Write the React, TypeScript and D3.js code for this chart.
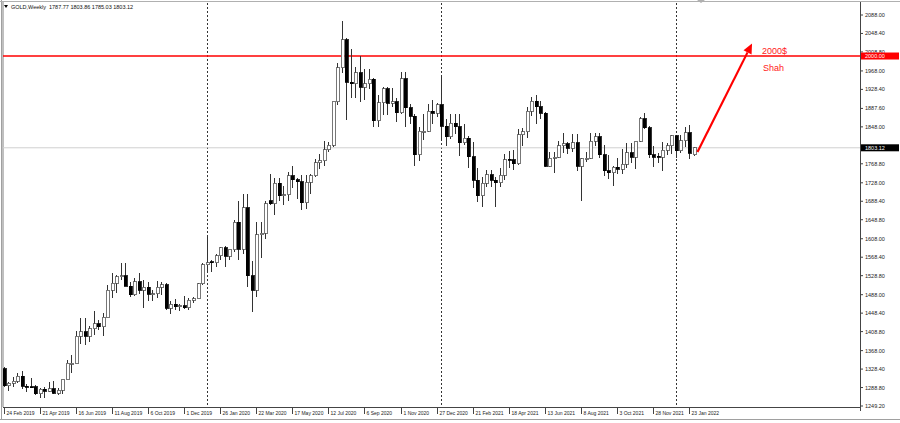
import React from "react";
import * as d3 from "d3";

// weekly bars, 24 Feb 2019 .. 30 Jan 2022
const opens = [
  1329, 1293, 1298, 1302, 1313, 1292, 1291, 1290, 1275, 1285, 1281, 1286, 1277, 1283, 1305, 1341, 1341, 1399, 1409, 1399,
  1415, 1426, 1419, 1440, 1497, 1513, 1527, 1529, 1506, 1488, 1516, 1497, 1504, 1489, 1490, 1504, 1509, 1459, 1468, 1462,
  1464, 1460, 1476, 1479, 1511, 1552, 1559, 1557, 1571, 1589, 1570, 1584, 1643, 1585, 1674, 1529, 1498, 1617, 1620, 1689,
  1683, 1727, 1700, 1702, 1743, 1735, 1730, 1685, 1729, 1743, 1771, 1775, 1799, 1809, 1902, 1975, 2035, 1944, 1940, 1964,
  1933, 1940, 1950, 1861, 1900, 1930, 1899, 1902, 1878, 1951, 1889, 1871, 1788, 1837, 1839, 1882, 1877, 1895, 1849, 1827,
  1856, 1848, 1814, 1824, 1784, 1734, 1700, 1727, 1745, 1733, 1728, 1744, 1779, 1777, 1769, 1831, 1838, 1881, 1903, 1891,
  1877, 1764, 1781, 1783, 1808, 1812, 1802, 1814, 1763, 1780, 1781, 1817, 1827, 1788, 1754, 1750, 1761, 1757, 1768, 1792,
  1783, 1817, 1865, 1846, 1788, 1785, 1783, 1798, 1808, 1829, 1797, 1818, 1835, 1787.77,
];
const highs = [
  1333, 1300, 1311, 1320, 1325, 1297, 1310, 1295, 1288, 1290, 1300, 1303, 1287, 1306, 1348, 1359, 1411, 1439, 1437, 1421,
  1452, 1433, 1449, 1509, 1535, 1530, 1555, 1557, 1516, 1523, 1535, 1519, 1516, 1499, 1518, 1516, 1514, 1475, 1478, 1467,
  1485, 1480, 1483, 1514, 1555, 1611, 1563, 1576, 1591, 1592, 1584, 1649, 1689, 1703, 1703, 1560, 1645, 1645, 1690, 1747,
  1739, 1739, 1722, 1752, 1765, 1738, 1745, 1745, 1746, 1779, 1789, 1818, 1815, 1902, 1984, 2075, 2039, 2015, 1976, 2000,
  1973, 1973, 1953, 1917, 1933, 1933, 1932, 1910, 1965, 1966, 1898, 1875, 1848, 1875, 1896, 1906, 1900, 1959, 1865, 1875,
  1875, 1875, 1855, 1828, 1816, 1760, 1740, 1755, 1756, 1740, 1759, 1790, 1797, 1798, 1843, 1845, 1890, 1913, 1916, 1903,
  1879, 1795, 1795, 1818, 1834, 1815, 1832, 1832, 1782, 1795, 1834, 1834, 1835, 1809, 1787, 1764, 1781, 1800, 1814, 1813,
  1818, 1870, 1877, 1849, 1808, 1793, 1815, 1813, 1831, 1831, 1830, 1848, 1853, 1803.86,
];
const lows = [
  1291, 1281, 1289, 1298, 1286, 1280, 1287, 1272, 1266, 1266, 1279, 1274, 1273, 1276, 1304, 1321, 1341, 1382, 1381, 1386,
  1401, 1412, 1400, 1440, 1480, 1491, 1519, 1506, 1484, 1485, 1489, 1459, 1474, 1475, 1480, 1488, 1456, 1446, 1456, 1452,
  1458, 1456, 1470, 1479, 1508, 1537, 1536, 1547, 1563, 1547, 1563, 1579, 1563, 1576, 1505, 1451, 1483, 1567, 1608, 1680,
  1659, 1690, 1680, 1690, 1717, 1693, 1670, 1671, 1705, 1741, 1757, 1763, 1795, 1805, 1895, 1964, 1863, 1911, 1910, 1902,
  1906, 1930, 1848, 1848, 1873, 1874, 1890, 1859, 1875, 1848, 1854, 1764, 1774, 1819, 1836, 1855, 1870, 1817, 1808, 1821,
  1832, 1785, 1809, 1760, 1717, 1687, 1676, 1718, 1719, 1677, 1720, 1733, 1760, 1756, 1767, 1808, 1825, 1871, 1855, 1864,
  1761, 1761, 1750, 1782, 1792, 1789, 1795, 1753, 1688, 1772, 1779, 1806, 1781, 1742, 1737, 1721, 1746, 1746, 1760, 1770,
  1758, 1815, 1844, 1782, 1762, 1770, 1753, 1787, 1790, 1782, 1791, 1805, 1780, 1785.03,
];
const closes = [
  1293, 1298, 1302, 1313, 1292, 1291, 1290, 1275, 1285, 1281, 1286, 1277, 1283, 1305, 1341, 1341, 1399, 1409, 1399, 1415,
  1426, 1419, 1440, 1497, 1513, 1527, 1529, 1506, 1488, 1516, 1497, 1504, 1489, 1490, 1504, 1509, 1459, 1468, 1462, 1464,
  1460, 1476, 1479, 1511, 1552, 1557, 1557, 1571, 1589, 1570, 1584, 1643, 1585, 1674, 1529, 1498, 1617, 1620, 1683, 1683,
  1727, 1700, 1702, 1743, 1735, 1730, 1685, 1729, 1743, 1771, 1775, 1799, 1809, 1902, 1975, 2035, 1944, 1940, 1964, 1933,
  1940, 1950, 1861, 1900, 1930, 1899, 1902, 1878, 1951, 1889, 1871, 1788, 1839, 1839, 1882, 1877, 1895, 1849, 1827, 1856,
  1848, 1814, 1824, 1784, 1734, 1700, 1727, 1745, 1733, 1728, 1744, 1777, 1777, 1769, 1831, 1838, 1881, 1903, 1891, 1877,
  1764, 1781, 1783, 1808, 1812, 1802, 1814, 1763, 1780, 1781, 1817, 1827, 1788, 1754, 1750, 1761, 1757, 1768, 1792, 1783,
  1817, 1865, 1846, 1788, 1783, 1783, 1798, 1808, 1829, 1797, 1818, 1835, 1791, 1803.12,
];

// x-axis labels, one every 8 bars
const dateLabels = [
  "24 Feb 2019", "21 Apr 2019", "16 Jun 2019", "11 Aug 2019", "6 Oct 2019", "1 Dec 2019", "26 Jan 2020",
  "22 Mar 2020", "17 May 2020", "12 Jul 2020", "6 Sep 2020", "1 Nov 2020", "27 Dec 2020", "21 Feb 2021",
  "18 Apr 2021", "13 Jun 2021", "8 Aug 2021", "3 Oct 2021", "28 Nov 2021", "23 Jan 2022",
];
const labelStep = 8;
// first bar of each year (period separators)
const yearStarts = [45, 97, 149];

const priceTicks = [
  2088.0, 2048.4, 2008.8, 1968.0, 1928.4, 1887.6, 1848.0, 1768.8, 1728.0, 1688.4, 1648.8, 1608.0,
  1568.4, 1528.8, 1488.0, 1448.4, 1408.8, 1368.0, 1328.4, 1288.8, 1249.2,
];

const targetLevel = 2000;
const lastPrice = 1803.12;
const arrowFrom = { bar: 153.8, price: 1794 };
const arrowTo = { bar: 165.9, price: 2027 };

export default function App() {
  const width = 900;
  const height = 423;
  const plotRight = 860;
  const plotBottom = 407;

  const x = d3.scaleLinear().domain([0, 153]).range([3.5, 3.5 + 153 * 4.512]);
  const y = d3.scaleLinear().domain([1249.2, 2088]).range([406, 15]);

  const font = "'Liberation Sans', Arial, sans-serif";
  const ax = x(arrowFrom.bar), ay = y(arrowFrom.price);
  const bx = x(arrowTo.bar), by = y(arrowTo.price);
  const ang = Math.atan2(by - ay, bx - ax);
  const hl = 10, hw = 4.5;
  const baseX = bx - hl * Math.cos(ang), baseY = by - hl * Math.sin(ang);
  const head = [
    [bx, by],
    [baseX + hw * Math.sin(ang), baseY - hw * Math.cos(ang)],
    [baseX - hw * Math.sin(ang), baseY + hw * Math.cos(ang)],
  ];

  return (
    <svg
      width={width}
      height={height}
      style={{ position: "absolute", left: 0, top: 0, background: "#fff" }}
      fontFamily={font}
    >
      {/* frame */}
      <line x1={1.5} x2={1.5} y1={0} y2={420} stroke="#a0a0a0" />
      <line x1={3} x2={3} y1={2} y2={plotBottom} stroke="#808080" />
      <line x1={0} x2={width} y1={1.5} y2={1.5} stroke="#b0b0b0" />
      <line x1={0} x2={width} y1={419.5} y2={419.5} stroke="#a0a0a0" />

      {/* year separators */}
      {yearStarts.map((b) => (
        <line key={b} x1={Math.round(x(b)) + 0.5} x2={Math.round(x(b)) + 0.5} y1={3} y2={plotBottom}
          stroke="#000" strokeDasharray="2,2" strokeWidth={0.8} />
      ))}

      {/* bid line */}
      <line x1={3} x2={plotRight} y1={y(lastPrice)} y2={y(lastPrice)} stroke="#d0d0d0" />

      {/* target level */}
      <line x1={3} x2={plotRight} y1={y(targetLevel)} y2={y(targetLevel)} stroke="#ff0000" strokeWidth={1.6} />

      {/* candles */}
      <g shapeRendering="crispEdges">
        {closes.map((c, i) => {
          const o = opens[i];
          const cx = Math.round(x(i)) + 0.5;
          const up = c >= o;
          const top = y(Math.max(o, c));
          const bot = y(Math.min(o, c));
          return (
            <g key={i}>
              <line x1={cx} x2={cx} y1={y(highs[i])} y2={y(lows[i])} stroke="#333" />
              <rect x={cx - 1.5} y={top} width={3} height={Math.max(bot - top, 1)}
                fill={up ? "#fff" : "#000"} stroke={up ? "#555" : "#000"} strokeWidth={0.8} />
            </g>
          );
        })}
      </g>

      {/* axes */}
      <line x1={plotRight + 0.5} x2={plotRight + 0.5} y1={2} y2={plotBottom + 4} stroke="#444" />
      <line x1={3} x2={plotRight} y1={plotBottom + 0.5} y2={plotBottom + 0.5} stroke="#444" />

      {priceTicks.map((p) => (
        <g key={p}>
          <line x1={plotRight} x2={plotRight + 3} y1={y(p)} y2={y(p)} stroke="#444" />
          <text x={plotRight + 5} y={y(p) + 2} fontSize={5.5} fill="#222">{p.toFixed(2)}</text>
        </g>
      ))}

      {/* price labels */}
      <rect x={plotRight + 1} y={y(targetLevel) - 3.5} width={38} height={7} fill="#ff0000" />
      <text x={plotRight + 5} y={y(targetLevel) + 2} fontSize={5.5} fill="#fff">{targetLevel.toFixed(2)}</text>
      <rect x={plotRight + 1} y={y(lastPrice) - 3.5} width={38} height={7} fill="#000" />
      <text x={plotRight + 5} y={y(lastPrice) + 2} fontSize={5.5} fill="#fff">{lastPrice.toFixed(2)}</text>

      {dateLabels.map((d, i) => {
        const bx0 = Math.round(x(i * labelStep)) + 0.5;
        return (
          <g key={d}>
            <line x1={bx0} x2={bx0} y1={plotBottom} y2={plotBottom + 7} stroke="#444" />
            <text x={bx0 + 2} y={414.5} fontSize={5} fill="#222">{d}</text>
          </g>
        );
      })}

      {/* header */}
      <path d="M4,5 L8,5 L6,8 Z" fill="#000" />
      <text x={11} y={8.5} fontSize={5.5} fill="#111">GOLD,Weekly</text>
      <text x={49} y={8.5} fontSize={5.5} fill="#111">
        {[opens[153], highs[153], lows[153], closes[153]].map((v) => v.toFixed(2)).join("  ")}
      </text>
      <path d="M697,0 L705,0 L701,3 Z" fill="#b0b0b0" />

      {/* annotation */}
      <line x1={ax} y1={ay} x2={baseX} y2={baseY} stroke="#ff0000" strokeWidth={2.2} />
      <polygon points={head.map((p) => p.join(",")).join(" ")} fill="#ff0000" />
      <text x={762} y={54} fontSize={9} fill="#ff2020">2000$</text>
      <text x={763} y={71} fontSize={9} fill="#ff2020">Shah</text>
    </svg>
  );
}
